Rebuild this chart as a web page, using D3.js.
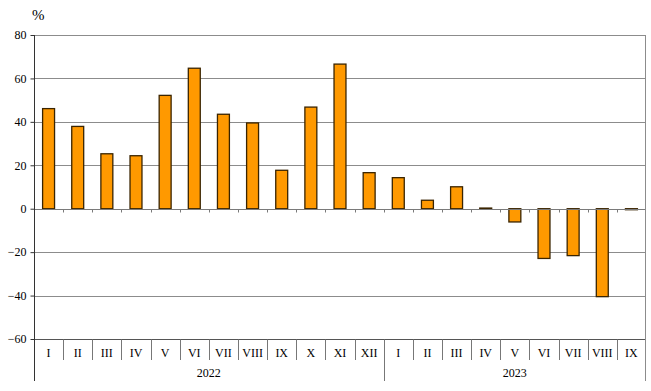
<!DOCTYPE html>
<html>
<head>
<meta charset="utf-8">
<script src="https://cdn.jsdelivr.net/npm/d3@7"></script>
<style>
  body { margin: 0; background: #fff; }
  text { font-family: "Liberation Serif", "Times New Roman", serif; fill: #000; }
</style>
</head>
<body>
<div id="chart"></div>
<script>
// month labels, grouped by year
const months2022 = ['I', 'II', 'III', 'IV', 'V', 'VI', 'VII', 'VIII', 'IX', 'X', 'XI', 'XII']
const months2023 = ['I', 'II', 'III', 'IV', 'V', 'VI', 'VII', 'VIII', 'IX']
const years = ['2022', '2023']
// % change
const values2022 = [46.1, 37.9, 25.3, 24.4, 52.2, 64.7, 43.5, 39.5, 17.7, 46.8, 66.6, 16.6]
const values2023 = [14.3, 3.9, 10.1, 0.3, -6.1, -22.9, -21.6, -40.5, -0.3]
const yTicks = [80, 60, 40, 20, 0, -20, -40, -60]

const W = 651, H = 391
const m = { l: 34, r: 5, t: 35, b: 52 } // plot box: x 34..646, y 35..339

const rows = []
months2022.forEach((mo, i) => rows.push({ key: '2022-' + i, month: mo, year: years[0], v: values2022[i] }))
months2023.forEach((mo, i) => rows.push({ key: '2023-' + i, month: mo, year: years[1], v: values2023[i] }))

const svg = d3.select('#chart').append('svg')
    .attr('width', W)
    .attr('height', H)

const x = d3.scaleBand()
    .domain(rows.map(d => d.key))
    .range([m.l, W - m.r])
    .paddingInner(0.59)
    .paddingOuter(0.295)

const xb = d3.scaleBand() // full cells for separators
    .domain(rows.map(d => d.key))
    .range([m.l, W - m.r])

const y = d3.scaleLinear()
    .domain([-60, 80])
    .range([H - m.b, m.t])

// grid
svg.append('g')
    .selectAll('line')
    .data(yTicks.filter(t => t !== -60))
    .enter()
    .append('line')
    .attr('x1', m.l)
    .attr('x2', W - m.r)
    .attr('y1', d => Math.round(y(d)) + 0.5)
    .attr('y2', d => Math.round(y(d)) + 0.5)
    .style('stroke', '#8c8c8c')
    .style('stroke-width', 1)

// bars
svg.append('g')
    .selectAll('rect')
    .data(rows)
    .enter()
    .append('rect')
    .attr('x', d => x(d.key))
    .attr('width', x.bandwidth())
    .attr('y', d => y(Math.max(0, d.v)))
    .attr('height', d => Math.max(1, Math.abs(y(d.v) - y(0))))
    .style('fill', '#ff9900')
    .style('stroke', '#3a2400')
    .style('stroke-width', 1.3)

// zero axis with small ticks at cell boundaries
const y0 = Math.round(y(0)) + 0.5
svg.append('line')
    .attr('x1', m.l).attr('x2', W - m.r)
    .attr('y1', y0).attr('y2', y0)
    .style('stroke', '#7a7a7a')
svg.append('g')
    .selectAll('line')
    .data(rows.slice(1))
    .enter()
    .append('line')
    .attr('x1', d => Math.round(xb(d.key)) + 0.5)
    .attr('x2', d => Math.round(xb(d.key)) + 0.5)
    .attr('y1', y0)
    .attr('y2', y0 + 3)
    .style('stroke', '#7a7a7a')

// bottom line (-60) and right border
const yb = Math.round(y(-60)) + 0.5
svg.append('line')
    .attr('x1', m.l).attr('x2', W - m.r)
    .attr('y1', yb).attr('y2', yb)
    .style('stroke', '#555')
svg.append('line')
    .attr('x1', W - m.r - 0.5).attr('x2', W - m.r - 0.5)
    .attr('y1', m.t).attr('y2', 381)
    .style('stroke', '#8c8c8c')

// left axis
const yAxis = svg.append('g')
    .attr('transform', `translate(${m.l + 0.5},0)`)
    .call(d3.axisLeft(y).tickValues(yTicks).tickSize(4).tickPadding(4).tickFormat(d3.format('d')))
yAxis.select('.domain').remove()
yAxis.append('line')
    .attr('y1', m.t).attr('y2', 381)
    .style('stroke', '#333')
yAxis.selectAll('.tick line').style('stroke', '#333')
yAxis.selectAll('text')
    .style('font-family', '"Liberation Serif", serif')
    .style('font-size', '12px')
    .style('fill', '#000')

// month separators and labels
svg.append('g')
    .selectAll('line')
    .data(rows.slice(1))
    .enter()
    .append('line')
    .attr('x1', d => Math.round(xb(d.key)) + 0.5)
    .attr('x2', d => Math.round(xb(d.key)) + 0.5)
    .attr('y1', yb)
    .attr('y2', d => d.key === '2023-0' ? 381 : 360)
    .style('stroke', '#777')

svg.append('g')
    .selectAll('text')
    .data(rows)
    .enter()
    .append('text')
    .attr('x', d => xb(d.key) + xb.bandwidth() / 2)
    .attr('y', 357)
    .attr('text-anchor', 'middle')
    .style('font-size', '12px')
    .text(d => d.month)

// year labels centred under their months
years.forEach(yr => {
    const rs = rows.filter(d => d.year === yr)
    const a = xb(rs[0].key), b = xb(rs[rs.length - 1].key) + xb.bandwidth()
    svg.append('text')
        .attr('x', (a + b) / 2)
        .attr('y', 377)
        .attr('text-anchor', 'middle')
        .style('font-size', '12px')
        .text(yr)
})

// unit
svg.append('text')
    .attr('x', 32)
    .attr('y', 20)
    .style('font-size', '15px')
    .text('%')
</script>
</body>
</html>
